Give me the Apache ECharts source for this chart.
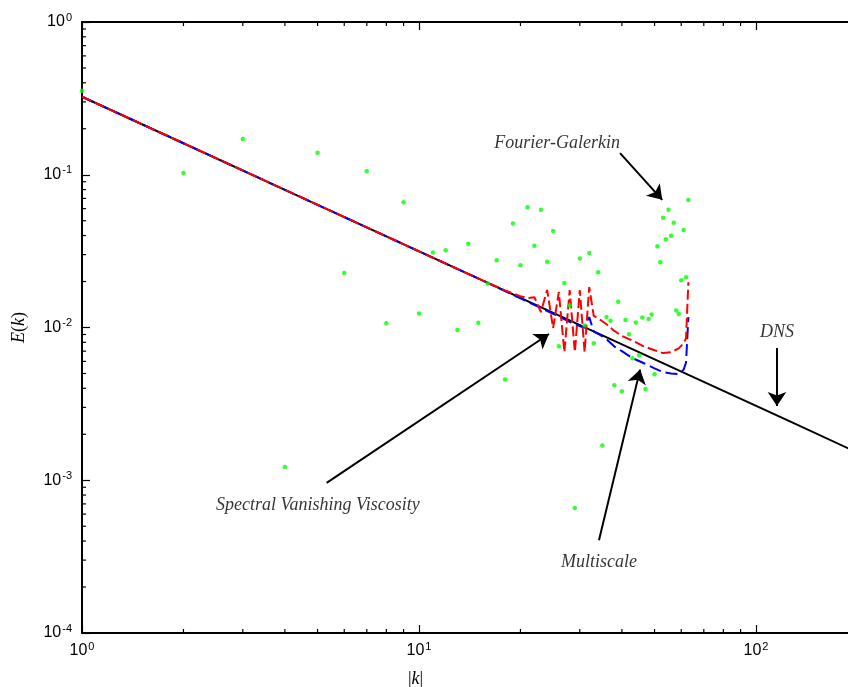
<!DOCTYPE html>
<html>
<head>
<meta charset="utf-8">
<title>E(k)</title>
<script src="https://cdn.jsdelivr.net/npm/echarts@6/dist/echarts.min.js"></script>
<style>
html, body {margin:0; padding:0; background:#fff;}
#chart {width:848px; height:687px;}
</style>
</head>
<body>
<div id="chart"></div>
<script type="text/javascript">
// DNS reference spectrum (straight line in log-log)
var dnsK = [1, 2, 4, 8, 16, 32, 64, 128, 256];
var dnsE = [0.3242, 0.1607, 0.0797, 0.0395, 0.0196, 0.00971, 0.00482, 0.00239, 0.00118];

// Multiscale (blue dashed)
var msK = [1, 2, 4, 8, 16, 20, 25, 28, 30, 31, 32, 33, 34, 36, 38, 40, 43, 46, 50, 53, 56, 59, 61, 62, 63];
var msE = [0.3242, 0.1607, 0.0797, 0.0395, 0.0196, 0.0155, 0.0123, 0.0109, 0.0102, 0.0100, 0.0117, 0.0094,
           0.0091, 0.0084, 0.0075, 0.0070, 0.0063, 0.0059, 0.0054, 0.0051, 0.0050, 0.00495, 0.0053, 0.0059, 0.0117];

// Spectral Vanishing Viscosity (red dashed)
var svvK = [1, 2, 4, 8, 16, 18, 20, 21, 22, 23, 24, 25, 26, 27, 28, 29, 30, 31, 32, 33, 34, 36, 38, 40, 43, 46, 50, 53, 56, 59, 61, 62, 63];
var svvE = [0.3242, 0.1607, 0.0797, 0.0395, 0.0196, 0.0175, 0.0160, 0.0156, 0.0158, 0.0126, 0.0176, 0.0099,
            0.0171, 0.0069, 0.0176, 0.0069, 0.0176, 0.0069, 0.0184, 0.0119, 0.0115, 0.0105, 0.0095, 0.0088,
            0.0082, 0.0076, 0.0071, 0.0068, 0.0069, 0.0073, 0.0079, 0.0085, 0.0198];

// Fourier-Galerkin (green dots), k = 1..63
var fgE = [0.355, 0.1026, 0.1713, 0.00122, 0.1393, 0.0227, 0.1053, 0.01065, 0.0661, 0.01233,
           0.0310, 0.0320, 0.00962, 0.0353, 0.01074, 0.01944, 0.0276, 0.00457, 0.0479, 0.0256,
           0.0612, 0.0343, 0.0590, 0.0269, 0.0428, 0.00755, 0.01953, 0.01391, 0.000657, 0.0283,
           0.01032, 0.0307, 0.00790, 0.0230, 0.00169, 0.01170, 0.01106, 0.00418, 0.01477, 0.00382,
           0.01118, 0.00903, 0.00630, 0.01077, 0.00657, 0.01161, 0.00395, 0.01135, 0.01215, 0.00494,
           0.0340, 0.0267, 0.0523, 0.0378, 0.0589, 0.0399, 0.0485, 0.01294, 0.01224, 0.0204,
           0.0435, 0.0213, 0.0683];

// annotations (data coordinates)
var noteText = ['Fourier-Galerkin', 'DNS', 'Spectral Vanishing Viscosity', 'Multiscale'];
var notePos = [[25.7, 0.1613], [115.4, 0.00933], [5.01, 0.000687], [34.2, 0.000291]];
var arrowFrom = [[39.5, 0.1387], [115.4, 0.00733], [5.32, 0.000961], [34.2, 0.000405]];
var arrowTo = [[52.7, 0.0685], [115.4, 0.00306], [24.3, 0.00907], [45.3, 0.0053]];

// minor tick values
var xMinor = [2, 3, 4, 5, 6, 7, 8, 9, 20, 30, 40, 50, 60, 70, 80, 90, 200, 300];
var yMinor = [];
[1e-4, 1e-3, 1e-2, 1e-1].forEach(function (d) {
	for (var m = 2; m <= 9; m++) yMinor.push(+(m * d).toPrecision(3));
});

function pairs(xs, ys) {
	return xs.map(function (x, i) { return [x, ys[i]]; });
}

function powLabel(v) {
	var e = Math.log10(v);
	if (Math.abs(e - Math.round(e)) > 1e-6) return '';
	return '{b|10}{s|' + Math.round(e) + '}';
}

function minorTick(dx, dy) {
	return function (params, api) {
		var p = api.coord([api.value(0), api.value(1)]);
		return {
			type: 'line',
			shape: {x1: p[0], y1: p[1], x2: p[0] + dx, y2: p[1] + dy},
			style: {stroke: '#000', lineWidth: 1.2}
		};
	};
}

var labelRich = {
	b: {fontSize: 16, fontFamily: 'Liberation Sans', color: '#000'},
	s: {fontSize: 11, fontFamily: 'Liberation Sans', color: '#000', padding: [0, 0, 9, 1]}
};
var nameRich = {
	i: {fontSize: 18, fontFamily: 'Liberation Serif', fontStyle: 'italic', color: '#000'},
	n: {fontSize: 18, fontFamily: 'Liberation Serif', color: '#000'}
};

var myChart = echarts.init(document.getElementById('chart'));
myChart.setOption({
	animation: false,
	backgroundColor: '#fff',
	// the plot box runs past the right edge of the figure (10^3 lies off-canvas)
	grid: {left: 82, top: 22, bottom: 54, right: -245, containLabel: false, outerBoundsMode: 'none'},
	xAxis: [{
		type: 'log', logBase: 10, min: 1, max: 1000,
		name: '{n||}{i|k}{n||}', nameLocation: 'middle', nameGap: 37,
		// the visible part of the axis is narrower, so pull the title left
		nameTextStyle: {rich: nameRich, padding: [0, 344, 0, 0]},
		axisLine: {lineStyle: {color: '#000', width: 2}},
		axisTick: {inside: true, length: 8, lineStyle: {color: '#000', width: 1.2}},
		axisLabel: {formatter: powLabel, rich: labelRich, margin: 8, showMinLabel: true},
		splitLine: {show: false}
	}, {
		type: 'log', logBase: 10, min: 1, max: 1000, position: 'top',
		axisLine: {lineStyle: {color: '#000', width: 2}},
		axisTick: {inside: true, length: 8, lineStyle: {color: '#000', width: 1.2}},
		axisLabel: {show: false},
		splitLine: {show: false}
	}],
	yAxis: {
		type: 'log', logBase: 10, min: 1e-4, max: 1,
		name: '{i|E}{n|(}{i|k}{n|)}', nameLocation: 'middle', nameGap: 54,
		nameTextStyle: {rich: nameRich},
		axisLine: {lineStyle: {color: '#000', width: 2}},
		axisTick: {inside: true, length: 8, lineStyle: {color: '#000', width: 1.2}},
		axisLabel: {formatter: powLabel, rich: labelRich, margin: 10, showMinLabel: true, showMaxLabel: true},
		splitLine: {show: false}
	},
	series: [
		{type: 'custom', name: 'xminor', silent: true, renderItem: minorTick(0, -4),
			data: xMinor.map(function (v) { return [v, 1e-4]; }), z: 5},
		{type: 'custom', name: 'xminorTop', silent: true, renderItem: minorTick(0, 4),
			data: xMinor.map(function (v) { return [v, 1]; }), z: 5},
		{type: 'custom', name: 'yminor', silent: true, renderItem: minorTick(4, 0),
			data: yMinor.map(function (v) { return [1, v]; }), z: 5},
		{
			type: 'line', name: 'DNS', data: pairs(dnsK, dnsE), symbol: 'none',
			lineStyle: {color: '#000', width: 2}, z: 2
		},
		{
			type: 'line', name: 'Multiscale', data: pairs(msK, msE), symbol: 'none',
			lineStyle: {color: '#0000ff', width: 2, type: [12, 5]}, z: 3
		},
		{
			type: 'line', name: 'Spectral Vanishing Viscosity', data: pairs(svvK, svvE), symbol: 'none',
			lineStyle: {color: '#ff0000', width: 2, type: [10, 4]}, z: 4
		},
		{
			type: 'scatter', name: 'Fourier-Galerkin',
			data: fgE.map(function (e, i) { return [i + 1, e]; }),
			symbol: 'circle', symbolSize: 4.5, itemStyle: {color: '#00ff00'}, z: 6
		},
		{
			type: 'scatter', name: 'notes', silent: true, symbolSize: 0, z: 7,
			data: noteText.map(function (t, i) { return {name: t, value: notePos[i]}; }),
			label: {
				show: true, position: 'inside', formatter: '{b}',
				fontFamily: 'Liberation Serif', fontStyle: 'italic', fontSize: 18, color: '#000'
			},
			markLine: {
				silent: true, symbol: ['none', 'arrow'], symbolSize: 14,
				label: {show: false},
				lineStyle: {color: '#000', width: 2, type: 'solid'},
				data: arrowFrom.map(function (a, i) { return [{coord: a}, {coord: arrowTo[i]}]; })
			}
		}
	]
});
</script>
</body>
</html>
